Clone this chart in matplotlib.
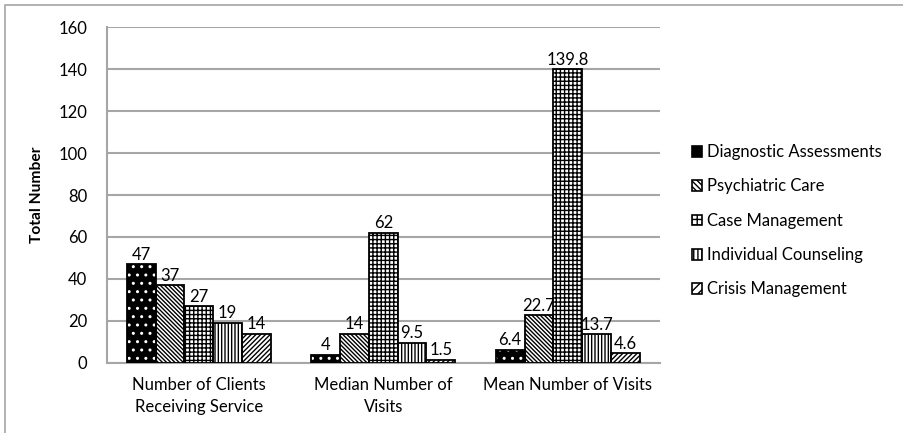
import numpy as np
import matplotlib.pyplot as plt
from matplotlib.patches import Rectangle, Patch

plt.rcParams['font.family'] = ['Lato', 'DejaVu Sans']
plt.rcParams['hatch.linewidth'] = 1.0

categories = ['Number of Clients\nReceiving Service', 'Median Number of\nVisits', 'Mean Number of Visits']
services = ['Diagnostic Assessments', 'Psychiatric Care', 'Case Management',
            'Individual Counseling', 'Crisis Management']
diagnostic = [47, 4, 6.4]
psychiatric = [37, 14, 22.7]
case_mgmt = [27, 62, 139.8]
counseling = [19, 9.5, 13.7]
crisis = [14, 1.5, 4.6]
labels = [['47', '4', '6.4'], ['37', '14', '22.7'], ['27', '62', '139.8'],
          ['19', '9.5', '13.7'], ['14', '1.5', '4.6']]

series = [diagnostic, psychiatric, case_mgmt, counseling, crisis]
# (face, hatch colour, hatch pattern, legend hatch)
styles = [('black', 'white', '..', None),
          ('white', 'black', '\\' * 8, '\\' * 6),
          ('white', 'black', '++++', '+++'),
          ('white', 'black', '|' * 5, '||||'),
          ('white', 'black', '/' * 7, '/' * 4)]

fig = plt.figure(figsize=(9.04, 4.33), dpi=100)
ax = fig.add_axes([0.118, 0.1617, 0.612, 0.7759])

x = np.arange(len(categories))
width = 0.156
grid_color = '#a6a6a6'

handles = []
for i, (vals, (face, hcol, hatch, lhatch)) in enumerate(zip(series, styles)):
    pos = x + (i - 2) * width
    ax.bar(pos, vals, width, color=face, edgecolor=hcol, hatch=hatch,
           linewidth=0, zorder=3)
    ax.bar(pos, vals, width, fill=False, edgecolor='black', linewidth=1.3, zorder=4)
    for p, v, t in zip(pos, vals, labels[i]):
        ax.text(p, v + 0.8, t, ha='center', va='bottom', fontsize=12, zorder=5)
    handles.append(Patch(facecolor=face, edgecolor='black', hatch=lhatch, linewidth=1.2))

ax.set_xlim(-0.5, 2.5)
ax.set_ylim(0, 160)
ax.set_yticks(np.arange(0, 161, 20))
ax.set_xticks(x)
ax.set_xticklabels(categories, fontsize=12, linespacing=1.45)
ax.tick_params(axis='both', length=0, labelsize=12)
ax.tick_params(axis='x', pad=10)
ax.tick_params(axis='y', pad=14)
ax.yaxis.grid(True, color=grid_color, linewidth=1.5, zorder=0)
ax.set_axisbelow(True)
for side in ['top', 'right']:
    ax.spines[side].set_visible(False)
for side in ['left', 'bottom']:
    ax.spines[side].set_color(grid_color)
    ax.spines[side].set_linewidth(1.5)
ax.set_ylabel('Total Number', fontsize=11.2, fontweight='bold', labelpad=10)

leg = fig.legend(handles, services, loc='center left', bbox_to_anchor=(0.749, 0.49),
                 frameon=False, fontsize=12, handlelength=0.6, handleheight=0.6,
                 handletextpad=0.3, labelspacing=1.1)

# outer border of the chart area
fig.patches.append(Rectangle((5 / 904, -0.2), 1.2, 1.2 - 5 / 433,
                             transform=fig.transFigure, fill=False,
                             edgecolor=grid_color, linewidth=1.2, clip_on=False))

fig.savefig('out.png', dpi=100)
